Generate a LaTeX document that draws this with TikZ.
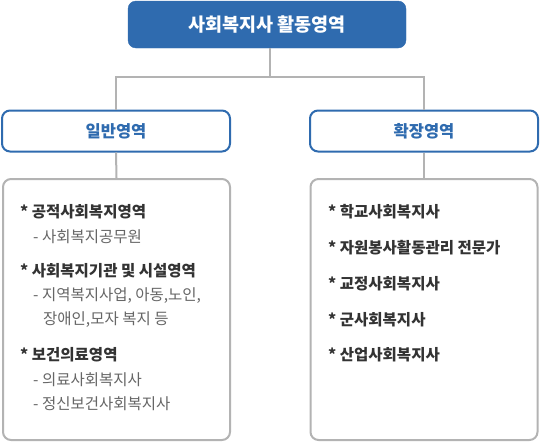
\documentclass[tikz,border=0pt]{standalone}
\usepackage{fontspec}
\setmainfont{Noto Sans CJK KR}
\definecolor{mblue}{HTML}{2F6BAF}
\definecolor{lgray}{HTML}{B3B3B3}
\definecolor{dtext}{HTML}{333333}
\definecolor{stext}{HTML}{666666}
\begin{document}
\begin{tikzpicture}[x=1pt,y=-1pt,
  topbox/.style={draw=mblue,fill=mblue,rounded corners=8pt,text=white,font=\bfseries\fontsize{18.5}{22}\selectfont,minimum width=278pt,minimum height=47pt,inner sep=0pt},
  catbox/.style={draw=mblue,line width=2pt,fill=white,rounded corners=8pt,text=mblue,font=\bfseries\fontsize{16.5}{20}\selectfont,minimum width=228pt,minimum height=41pt,inner sep=0pt},
  listbox/.style={draw=lgray,line width=2pt,fill=white,rounded corners=8pt,minimum width=227pt,minimum height=261pt,inner sep=0pt},
  conn/.style={draw=lgray,line width=2pt},
  itm/.style={anchor=west,text=dtext,font=\bfseries\fontsize{15.5}{18}\selectfont,inner sep=0pt},
  sub/.style={anchor=west,text=stext,font=\fontsize{15.5}{18}\selectfont,inner sep=0pt}]
\useasboundingbox (0,0) rectangle (540,442);
\node[topbox] (top) at (267,24.5) {사회복지사 활동영역};
\node[catbox] (gen) at (116,131) {일반영역};
\node[catbox] (ext) at (424,131) {확장영역};
\coordinate (mid) at (270,77);
\draw[conn] (top.south -| mid) -- (mid);
\draw[conn] (gen.north) |- (mid) -| (ext.north);
\node[listbox] (lbox) at (116.5,309.5) {};
\node[listbox] (rbox) at (424,309.5) {};
\draw[conn] (gen.south) -- (lbox.north);
\draw[conn] (ext.south) -- (rbox.north);
\node[itm] (l1) at (20,212) {* 공적사회복지영역};
\node[sub] (l2) at (33,237) {- 사회복지공무원};
\node[itm] (l3) at (20,271) {* 사회복지기관 및 시설영역};
\node[sub] (l4) at (33,296) {- 지역복지사업, 아동,노인,};
\node[sub] (l5) at (43,320) {장애인,모자 복지 등};
\node[itm] (l6) at (20,355) {* 보건의료영역};
\node[sub] (l7) at (33,380) {- 의료사회복지사};
\node[sub] (l8) at (33,404) {- 정신보건사회복지사};
\node[itm] (r1) at (328,212) {* 학교사회복지사};
\node[itm] (r2) at (328,248) {* 자원봉사활동관리 전문가};
\node[itm] (r3) at (328,284) {* 교정사회복지사};
\node[itm] (r4) at (328,320) {* 군사회복지사};
\node[itm] (r5) at (328,355) {* 산업사회복지사};
\end{tikzpicture}
\end{document}
